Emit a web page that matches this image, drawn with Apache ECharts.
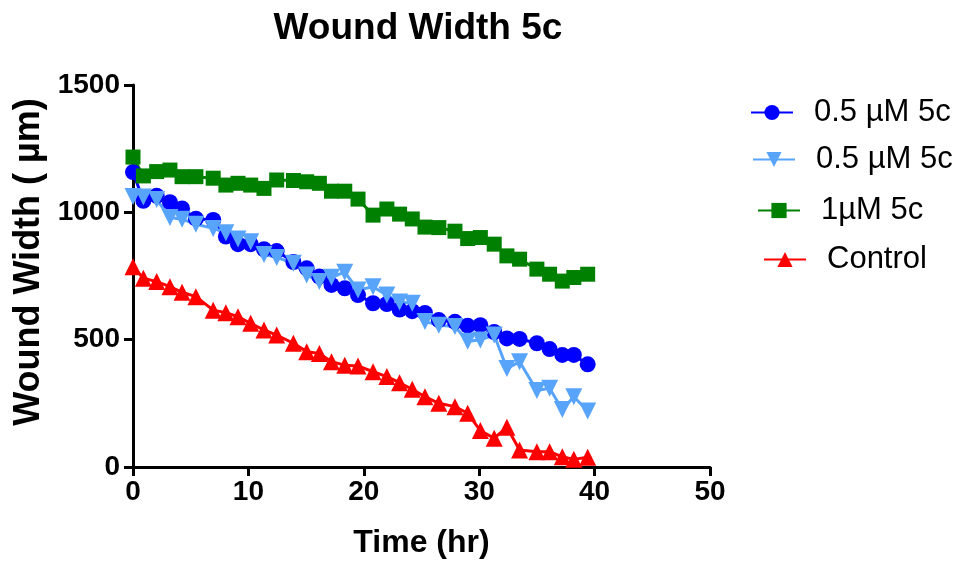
<!DOCTYPE html>
<html>
<head>
<meta charset="utf-8">
<script src="https://cdn.jsdelivr.net/npm/echarts@6/dist/echarts.min.js"></script>
<style>
  html, body { margin: 0; padding: 0; background: #fff; }
  #woundChart { width: 958px; height: 561px; }
</style>
</head>
<body>
<div id="woundChart"></div>
<script>
// time points (hr)
var times = [0, 0.9, 2.05, 3.2, 4.25, 5.45, 6.95, 8.05, 9.1, 10.2, 11.35, 12.45, 13.9, 15.05, 16.15,
  17.2, 18.35, 19.5, 20.8, 22.0, 23.1, 24.2, 25.3, 26.5, 27.9, 29.0, 30.1, 31.3, 32.4, 33.5,
  35.0, 36.1, 37.2, 38.2, 39.4];

var blueVals = [1158, 1045, 1065, 1040, 1015, 975, 970, 905, 875, 875, 855, 848, 805, 780, 748,
  715, 702, 675, 643, 640, 618, 612, 605, 577, 570, 555, 557, 530, 505, 503,
  486, 463, 440, 440, 403];

var lightBlueVals = [1062, 1060, 1050, 980, 973, 953, 937, 920, 895, 884, 834, 823, 800, 754, 728,
  745, 765, 695, 708, 675, 648, 643, 571, 557, 552, 494, 499, 518, 387, 413,
  300, 309, 226, 276, 220];

var greenVals = [1217, 1143, 1160, 1166, 1140, 1140, 1134, 1107, 1114, 1107, 1094, 1127, 1125, 1120, 1114,
  1083, 1083, 1052, 989, 1013, 993, 974, 942, 940, 926, 897, 901, 875, 829, 816,
  777, 757, 730, 744, 757];

var redVals = [786, 741, 728, 708, 686, 669, 616, 606, 590, 564, 538, 518, 486, 453, 446,
  413, 400, 397, 374, 355, 331, 305, 276, 250, 237, 211, 143, 113, 156, 67,
  60, 60, 40, 30, 38];

var seriesNames = ["0.5 \u00b5M 5c", "0.5 \u00b5M 5c ", "1\u00b5M 5c", "Control"];
var seriesColors = ["#0000ff", "#58a4fa", "#008000", "#ff0000"];

function pairs(vals) {
  return times.map(function (t, i) { return [t, vals[i]]; });
}

var chart = echarts.init(document.getElementById("woundChart"));

var font = "Liberation Sans, Arial, sans-serif";

var tickText = {
  fontFamily: font,
  fontWeight: "bold",
  fontSize: 28,
  color: "#000"
};

// GraphPad style legend: each row sits a little further right
var legendLefts = [750, 752, 757, 763];
var legendTops = [97, 144, 195, 244];
var legends = seriesNames.map(function (n, i) {
  return {
    orient: "vertical",
    left: legendLefts[i],
    top: legendTops[i],
    itemWidth: 42,
    itemHeight: 19,
    padding: 0,
    textStyle: {
      fontFamily: font,
      fontSize: 31,
      color: "#000",
      padding: [0, 0, 0, 16]
    },
    data: [n]
  };
});

var option = {
  animation: false,
  backgroundColor: "#fff",
  title: {
    text: "Wound Width 5c",
    left: 413,
    textAlign: "center",
    top: 5,
    textStyle: {
      fontFamily: font,
      fontWeight: "bold",
      fontSize: 37,
      color: "#000"
    }
  },
  legend: legends,
  grid: {
    left: 133,
    right: 248,
    top: 85,
    bottom: 94,
    containLabel: false,
    outerBoundsMode: "none"
  },
  xAxis: {
    type: "value",
    min: 0,
    max: 50,
    interval: 10,
    name: "Time (hr)",
    nameLocation: "middle",
    nameGap: 60,
    nameTextStyle: {
      fontFamily: font,
      fontWeight: "bold",
      fontSize: 32,
      color: "#000"
    },
    splitLine: { show: false },
    axisLine: { onZero: false, lineStyle: { color: "#000", width: 3 } },
    axisTick: { length: 9, lineStyle: { color: "#000", width: 3 } },
    axisLabel: Object.assign({ margin: 11 }, tickText)
  },
  yAxis: {
    type: "value",
    min: 0,
    max: 1500,
    interval: 500,
    name: "Wound Width ( \u00b5m)",
    nameLocation: "middle",
    nameGap: 84,
    nameTextStyle: {
      fontFamily: font,
      fontWeight: "bold",
      fontSize: 36,
      color: "#000",
      padding: [0, 0, 0, 28]
    },
    splitLine: { show: false },
    axisLine: { show: true, onZero: false, lineStyle: { color: "#000", width: 3 } },
    axisTick: { show: true, length: 9, lineStyle: { color: "#000", width: 3 } },
    axisLabel: Object.assign({
      margin: 13,
      formatter: function (v) { return String(v); }
    }, tickText)
  },
  series: [
    {
      name: seriesNames[0],
      type: "line",
      data: pairs(blueVals),
      symbol: "circle",
      symbolSize: 16,
      lineStyle: { color: seriesColors[0], width: 3 },
      itemStyle: { color: seriesColors[0] }
    },
    {
      name: seriesNames[1],
      type: "line",
      data: pairs(lightBlueVals),
      symbol: "triangle",
      symbolRotate: 180,
      symbolSize: 17,
      lineStyle: { color: seriesColors[1], width: 3 },
      itemStyle: { color: seriesColors[1] }
    },
    {
      name: seriesNames[2],
      type: "line",
      data: pairs(greenVals),
      symbol: "rect",
      symbolSize: 15,
      lineStyle: { color: seriesColors[2], width: 3 },
      itemStyle: { color: seriesColors[2] }
    },
    {
      name: seriesNames[3],
      type: "line",
      data: pairs(redVals),
      symbol: "triangle",
      symbolSize: 17,
      lineStyle: { color: seriesColors[3], width: 3 },
      itemStyle: { color: seriesColors[3] }
    }
  ]
};

chart.setOption(option);
</script>
</body>
</html>
